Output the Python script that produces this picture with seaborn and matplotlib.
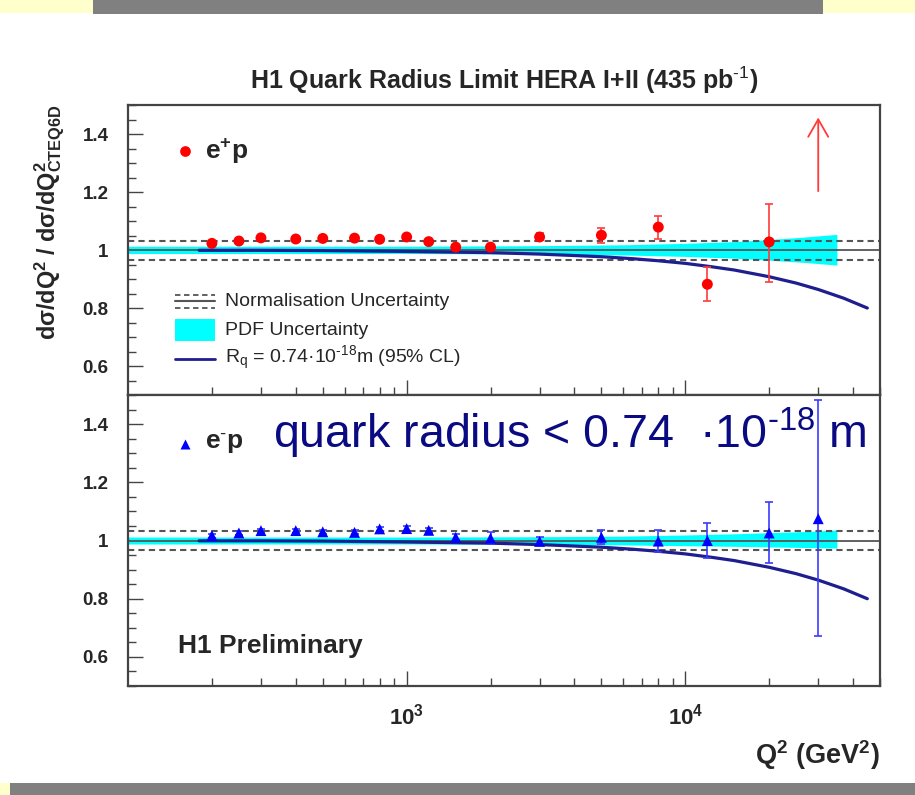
import matplotlib
matplotlib.use("Agg")
import matplotlib.pyplot as plt
import numpy as np
import pandas as pd
import seaborn as sns
from matplotlib.patches import Rectangle
from matplotlib.ticker import FixedLocator, LogLocator, MultipleLocator, NullFormatter

# Q^2 bins (GeV^2)
q2_bins = [200, 250, 300, 400, 500, 650, 800, 1000, 1200, 1500, 2000,
           3000, 5000, 8000, 12000, 20000, 30000]

# e+p ratio data (last bin off scale -> arrow)
ep_ratio = [1.023, 1.031, 1.042, 1.038, 1.040, 1.041, 1.037, 1.045, 1.029,
            1.010, 1.010, 1.045, 1.051, 1.079, 0.882, 1.028]
ep_err_up = [0.006, 0.006, 0.006, 0.006, 0.006, 0.006, 0.006, 0.007, 0.007,
             0.008, 0.009, 0.012, 0.026, 0.040, 0.059, 0.132]
ep_err_dn = [0.006, 0.006, 0.006, 0.006, 0.006, 0.006, 0.006, 0.007, 0.007,
             0.008, 0.009, 0.012, 0.026, 0.040, 0.059, 0.137]
ep_arrow_q2 = 30000
ep_arrow_from = 1.203
ep_arrow_to = 1.457

# e-p ratio data
em_ratio = [1.017, 1.026, 1.034, 1.034, 1.030, 1.028, 1.040, 1.041, 1.035,
            1.011, 1.008, 0.997, 1.011, 0.998, 1.000, 1.026, 1.075]
em_err_up = [0.007, 0.007, 0.007, 0.007, 0.007, 0.007, 0.008, 0.008, 0.009,
             0.010, 0.020, 0.014, 0.024, 0.038, 0.060, 0.108, 0.407]
em_err_dn = [0.007, 0.007, 0.007, 0.007, 0.007, 0.007, 0.008, 0.008, 0.009,
             0.010, 0.020, 0.014, 0.024, 0.038, 0.060, 0.104, 0.403]

# quark radius limit curve, Rq = 0.74e-18 m
curve_q2 = [180, 300, 500, 1000, 2000, 3000, 4000, 5000, 6500, 8000, 10000,
            12500, 15000, 20000, 25000, 30000, 37000, 45000]
curve_ratio = [0.999, 0.999, 0.998, 0.995, 0.991, 0.986, 0.981, 0.977, 0.970,
               0.963, 0.954, 0.942, 0.931, 0.908, 0.886, 0.864, 0.834, 0.800]

# PDF uncertainty band
band_q2 = [100, 1000, 3000, 6000, 10000, 15000, 20000, 27000, 35000]
band_hi_ep = [1.013, 1.013, 1.015, 1.018, 1.023, 1.029, 1.036, 1.045, 1.054]
band_lo_ep = [0.988, 0.988, 0.986, 0.983, 0.978, 0.972, 0.965, 0.957, 0.948]
band_hi_em = [1.012, 1.012, 1.013, 1.015, 1.019, 1.023, 1.027, 1.031, 1.036]
band_lo_em = [0.988, 0.988, 0.987, 0.985, 0.982, 0.980, 0.978, 0.976, 0.974]

# normalisation uncertainty
norm_hi = 1.032
norm_lo = 0.967

ep_df = pd.DataFrame({"q2": q2_bins[:-1], "ratio": ep_ratio,
                      "up": ep_err_up, "dn": ep_err_dn})
em_df = pd.DataFrame({"q2": q2_bins, "ratio": em_ratio,
                      "up": em_err_up, "dn": em_err_dn})
curve_df = pd.DataFrame({"q2": curve_q2, "ratio": curve_ratio})

sns.set_theme(style="white")
plt.rcParams["font.family"] = ["Liberation Sans", "DejaVu Sans"]
plt.rcParams["mathtext.fontset"] = "custom"
plt.rcParams["mathtext.rm"] = "Liberation Sans"
plt.rcParams["mathtext.bf"] = "Liberation Sans:bold"
plt.rcParams["mathtext.it"] = "Liberation Sans:italic"
plt.rcParams["mathtext.default"] = "regular"

CURVE = "#1e1e8e"
NAVY = "#0a0a82"
FRAME = "#444444"

fig = plt.figure(figsize=(9.15, 7.95), dpi=100)
fig.patch.set_facecolor("white")

# slide decorations
fig.patches.append(Rectangle((0, 1 - 13 / 795), 1, 13 / 795, transform=fig.transFigure,
                             facecolor="#ffffcc", edgecolor="none"))
fig.patches.append(Rectangle((93 / 915, 1 - 14 / 795), 730 / 915, 14 / 795,
                             transform=fig.transFigure, facecolor="#808080", edgecolor="none"))
fig.patches.append(Rectangle((0, 0), 1, 12 / 795, transform=fig.transFigure,
                             facecolor="#ffffcc", edgecolor="none"))
fig.patches.append(Rectangle((10 / 915, 0), 905 / 915, 12 / 795, transform=fig.transFigure,
                             facecolor="#808080", edgecolor="none"))

ax_top = fig.add_axes([0.1399, 0.5031, 0.8219, 0.3648])
ax_bot = fig.add_axes([0.1399, 0.1371, 0.8219, 0.3660])


def style_axis(ax, show_xlabels):
    ax.set_xscale("log")
    ax.set_xlim(100, 50000)
    ax.set_ylim(0.5, 1.5)
    ax.set_facecolor("white")
    ax.yaxis.set_major_locator(FixedLocator([0.6, 0.8, 1.0, 1.2, 1.4]))
    ax.set_yticklabels(["0.6", "0.8", "1", "1.2", "1.4"])
    ax.yaxis.set_minor_locator(MultipleLocator(0.05))
    ax.xaxis.set_major_locator(FixedLocator([1e3, 1e4]))
    ax.xaxis.set_minor_locator(LogLocator(base=10, subs=np.arange(2, 10) * 1.0, numticks=20))
    ax.xaxis.set_minor_formatter(NullFormatter())
    if show_xlabels:
        ax.set_xticklabels([r"10$^{3}$", r"10$^{4}$"])
    else:
        ax.tick_params(labelbottom=False)
    ax.tick_params(which="both", direction="in", top=False, right=False,
                   left=True, bottom=True, color=FRAME, width=1.0)
    ax.tick_params(which="major", length=11)
    ax.tick_params(which="minor", length=5.5)
    ax.tick_params(axis="y", which="major", pad=14)
    ax.tick_params(axis="x", which="major", pad=13)
    for lab in ax.get_yticklabels():
        lab.set_fontweight("bold")
        lab.set_fontsize(13.5)
    for lab in ax.get_xticklabels():
        lab.set_fontweight("bold")
        lab.set_fontsize(16)
    for sp in ax.spines.values():
        sp.set_color(FRAME)
        sp.set_linewidth(1.6)
    ax.set_xlabel("")
    ax.set_ylabel("")


def draw_common(ax, band_hi, band_lo):
    ax.fill_between(band_q2, band_lo, band_hi, color="#00ffff", lw=0, zorder=1)
    ax.axhline(1.0, color="#555555", lw=1.3, zorder=2)
    ax.axhline(norm_hi, color="#555555", lw=1.5, dashes=(3, 2), zorder=2)
    ax.axhline(norm_lo, color="#555555", lw=1.5, dashes=(3, 2), zorder=2)
    sns.lineplot(data=curve_df, x="q2", y="ratio", ax=ax, color=CURVE, lw=2.3,
                 zorder=3, legend=False)


# ---- top panel: e+p ----
draw_common(ax_top, band_hi_ep, band_lo_ep)
ax_top.errorbar(ep_df["q2"], ep_df["ratio"], yerr=[ep_df["dn"], ep_df["up"]], fmt="none",
                ecolor="#ff3b3b", elinewidth=1.2, capsize=3, capthick=1.2, zorder=4)
sns.scatterplot(data=ep_df, x="q2", y="ratio", ax=ax_top, color="#ff0000", marker="o",
                s=62, edgecolor="none", zorder=5, legend=False)
ax_top.annotate("", xy=(ep_arrow_q2, ep_arrow_to), xytext=(ep_arrow_q2, ep_arrow_from),
                arrowprops=dict(arrowstyle="->,head_length=1.05,head_width=0.6",
                                color="#ff3b3b", lw=1.3, shrinkA=0, shrinkB=0))

ax_top.plot([0.0758], [0.841], marker="o", ms=7.7, color="#ff0000", mec="none",
            transform=ax_top.transAxes, clip_on=False)
ax_top.text(0.1024, 0.841, r"e$^{+}$p", transform=ax_top.transAxes, fontsize=19,
            fontweight="bold", va="center", ha="left")

# legend (ROOT style)
lx = [0.0625, 0.1157]
ax_top.plot(lx, [0.3466, 0.3466], color="#555555", lw=1.3, dashes=(3, 2),
            transform=ax_top.transAxes)
ax_top.plot(lx, [0.3259, 0.3259], color="#555555", lw=1.5, transform=ax_top.transAxes)
ax_top.plot(lx, [0.300, 0.300], color="#555555", lw=1.3, dashes=(3, 2),
            transform=ax_top.transAxes)
ax_top.add_patch(Rectangle((0.0625, 0.1872), 0.0532, 0.074, transform=ax_top.transAxes,
                           facecolor="#00ffff", edgecolor="none"))
ax_top.plot(lx, [0.124, 0.124], color=CURVE, lw=2.0, transform=ax_top.transAxes)
ax_top.text(0.129, 0.3217, "Normalisation Uncertainty", transform=ax_top.transAxes,
            fontsize=14, va="center", ha="left")
ax_top.text(0.129, 0.224, "PDF Uncertainty", transform=ax_top.transAxes,
            fontsize=14, va="center", ha="left")
ax_top.text(0.129, 0.1276, r"R$_{q}$ = 0.74·10$^{\text{-18}}$m (95% CL)",
            transform=ax_top.transAxes, fontsize=14, va="center", ha="left")

style_axis(ax_top, False)

# ---- bottom panel: e-p ----
draw_common(ax_bot, band_hi_em, band_lo_em)
ax_bot.text(0.1928, 0.818, r"quark radius < 0.74  ·10$^{\text{-18}}$ m",
            transform=ax_bot.transAxes, fontsize=33.6, color=NAVY, va="baseline",
            ha="left", zorder=1)
ax_bot.errorbar(em_df["q2"], em_df["ratio"], yerr=[em_df["dn"], em_df["up"]], fmt="none",
                ecolor="#3b3bff", elinewidth=1.2, capsize=3, capthick=1.2, zorder=4)
sns.scatterplot(data=em_df, x="q2", y="ratio", ax=ax_bot, color="#0000ff", marker="^",
                s=62, edgecolor="none", zorder=5, legend=False)

ax_bot.plot([0.0758], [0.8316], marker="^", ms=7.7, color="#0000ff", mec="none",
            transform=ax_bot.transAxes, clip_on=False)
ax_bot.text(0.1024, 0.8316, r"e$^{\text{-}}$p", transform=ax_bot.transAxes, fontsize=19,
            fontweight="bold", va="center", ha="left")
ax_bot.text(0.0665, 0.1375, "H1 Preliminary", transform=ax_bot.transAxes, fontsize=19,
            fontweight="bold", va="center", ha="left")

style_axis(ax_bot, True)

# titles and axis labels
fig.text(504 / 915, 1 - 80 / 795, r"H1 Quark Radius Limit HERA I+II (435 pb$^{\text{-1}}$)",
         fontsize=18, fontweight="bold", ha="center", va="center")
fig.text(880 / 915, 1 - 755 / 795, r"Q$^{2}$ (GeV$^{2}$)", fontsize=19.5, fontweight="bold",
         ha="right", va="center")
fig.text(50 / 915, 1 - 104 / 795, r"dσ/dQ$^{2}$ / dσ/dQ$^{2}_{CTEQ6D}$", fontsize=16.8,
         fontweight="bold", rotation=90, ha="center", va="top")

fig.savefig("out.png", dpi=100)
